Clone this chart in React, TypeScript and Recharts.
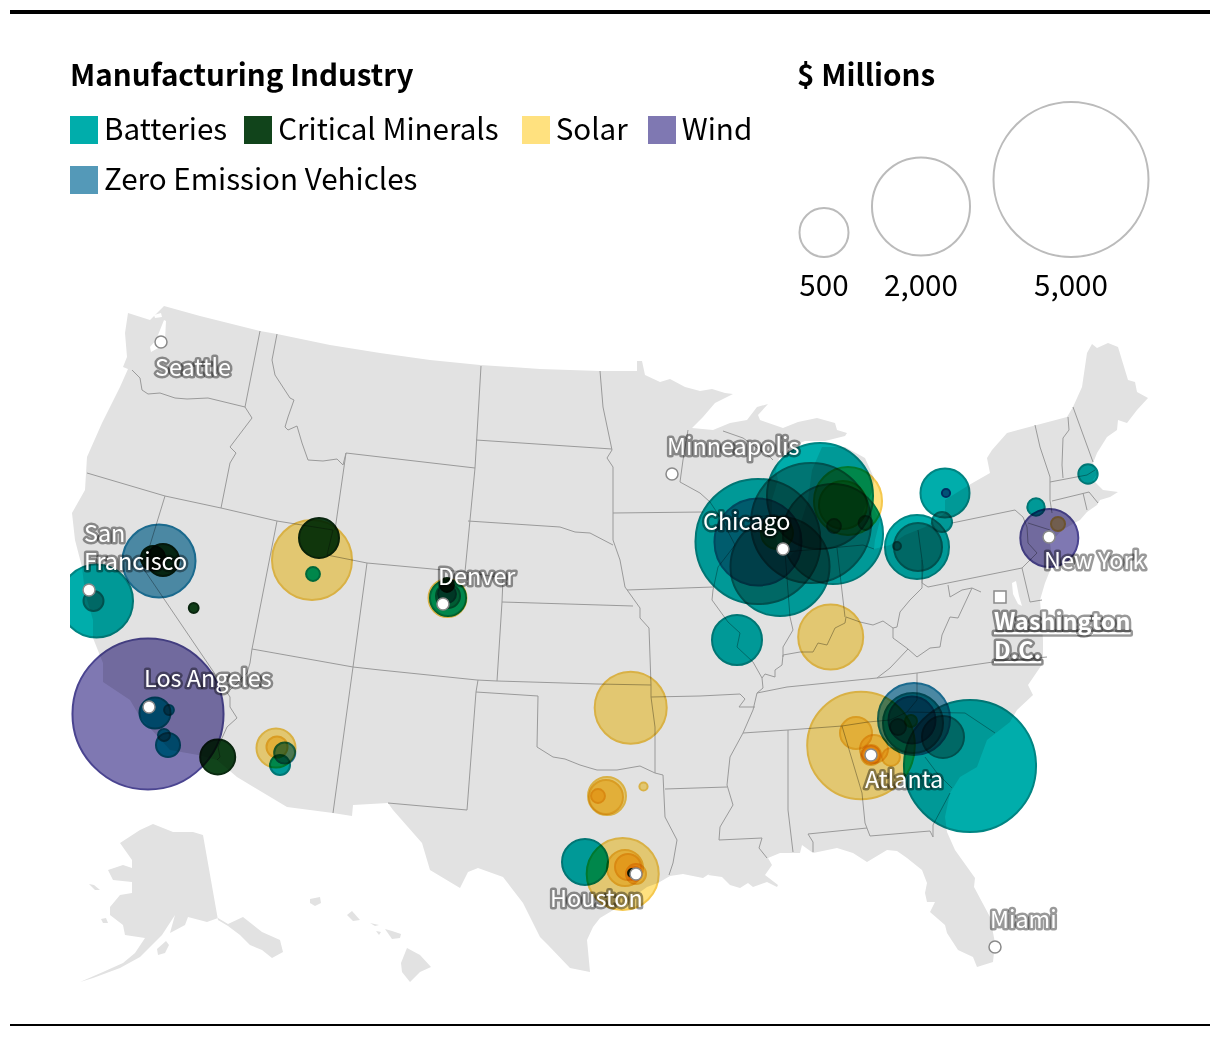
import { ScatterChart, Scatter, XAxis, YAxis, ZAxis } from "recharts";

const WIDTH = 1220;
const HEIGHT = 1038;
const FONT = '"Noto Sans CJK SC", "Noto Sans", sans-serif';

type Pt = [number, number];

const batteries = [
  [96.5, 601, 1110], [93.5, 601, 83], [280, 765, 83], [313, 574, 40],
  [820, 496, 2340], [758, 541.5, 3255], [780, 566.5, 2040], [811, 523, 3000], [833, 534, 2083],
  [834, 526, 40], [865.5, 523, 40], [897, 546, 13],
  [737, 640, 520], [917, 547, 853], [918, 547, 480], [945, 493, 500], [942, 522, 83],
  [1036, 507, 63], [1088, 474, 78], [970, 766, 3630], [913, 723, 750], [943, 737, 367], [898, 727, 53],
  [585, 862, 440], [448, 598, 270], [448, 596, 120],
  [155, 713, 200], [169, 710, 20], [168, 745, 120], [164, 735, 30],
];
const criticalMinerals = [
  [163, 560, 213], [153, 558, 120], [193.7, 608, 20], [319, 538, 333], [217.7, 757, 255],
  [447, 585, 40], [632, 873, 13],
];
const solar = [
  [312, 560, 1333], [276, 748, 317], [277, 747, 92], [447.5, 598, 300], [630.7, 707.7, 1080],
  [607, 796, 300], [606, 797, 240], [598, 796, 40], [643.5, 786.5, 14],
  [622.7, 874, 1080], [625, 868, 270], [628, 867, 140], [636, 874, 83], [635, 874, 40],
  [830.7, 637, 880], [848, 501, 963], [843, 505, 480], [777, 533, 213],
  [861, 745.5, 2410], [856, 733, 213], [874, 749, 163],
  [871, 755, 67], [871, 755, 83], [891, 757, 67], [911, 721, 30], [1058, 524, 41],
];
const wind = [
  [148, 714, 4750], [1049.3, 538, 700], [946, 493, 14],
];
const zeroEmission = [
  [159, 561, 1110], [284.7, 753, 92], [758, 542, 1577], [914, 719, 1080], [912, 720, 460],
  [447, 594, 67],
];

const sizeLegend = [[824, 232.5, 500], [921, 206.5, 2000], [1071, 179.5, 5000]];
const sizeLabels = ["500", "2,000", "5,000"];

const legendItems = [
  { name: "Batteries", color: "#00ADAB" },
  { name: "Critical Minerals", color: "#11441B" },
  { name: "Solar", color: "#FFE17F" },
  { name: "Wind", color: "#7F78B2" },
  { name: "Zero Emission Vehicles", color: "#5499B8" },
];
const legendGaps = [17, 23, 20, 0, 0];

const cities: Pt[] = [
  [161, 342], [89, 590], [149, 707], [443, 604], [672, 474],
  [783, 549], [1049, 537], [871, 755], [636, 874], [995, 947],
];
const capital: Pt[] = [[1000, 597]];

const cityLabels = [
  { text: "Seattle", x: 155, y: 376 },
  { text: "San", x: 84, y: 542 },
  { text: "Francisco", x: 84, y: 570 },
  { text: "Los Angeles", x: 144, y: 687 },
  { text: "Denver", x: 438, y: 585 },
  { text: "Minneapolis", x: 667, y: 455 },
  { text: "Chicago", x: 703, y: 530 },
  { text: "New York", x: 1044, y: 569 },
  { text: "Atlanta", x: 865, y: 788 },
  { text: "Houston", x: 550, y: 907 },
  { text: "Miami", x: 990, y: 928 },
  { text: "Washington", x: 994, y: 630, capital: true },
  { text: "D.C.", x: 994, y: 659, capital: true },
];

// Land
const lower48: Pt[] = [
  [164, 306], [200, 316], [260, 331], [277, 334], [330, 345], [380, 353], [430, 360], [480, 365], [540, 369], [600, 371],
  [637, 371], [637, 361], [642, 361], [645, 375], [660, 382], [670, 379], [685, 387], [700, 391], [712, 389], [725, 393],
  [733, 394], [715, 403], [703, 417], [692, 428], [713, 430], [730, 423], [747, 420], [757, 407], [768, 404], [758, 415],
  [760, 420], [783, 428], [798, 422], [817, 418], [835, 423], [837, 430], [847, 433], [845, 436], [825, 441], [805, 441],
  [790, 447], [780, 455], [776, 470], [778, 480], [772, 500], [772, 525], [778, 545], [790, 556], [798, 548], [800, 525],
  [808, 500], [812, 470], [822, 447], [845, 447], [865, 458], [874, 478], [873, 490], [866, 505], [862, 515], [872, 505],
  [880, 520], [875, 540], [874, 549], [890, 545], [905, 535], [925, 527], [945, 513], [945, 500], [969, 485], [990, 473],
  [987, 458], [992, 450], [1007, 433], [1067, 417], [1073, 407], [1082, 387], [1087, 353], [1092, 344], [1097, 348], [1108, 343],
  [1118, 347], [1128, 380], [1135, 382], [1137, 392], [1148, 398], [1137, 410], [1127, 423], [1118, 420], [1117, 430], [1107, 437],
  [1097, 453], [1093, 463], [1098, 473], [1093, 480], [1103, 490], [1118, 492], [1110, 497], [1100, 500], [1097, 505], [1087, 512],
  [1080, 520], [1062, 530], [1050, 543], [1053, 563], [1045, 583], [1040, 600], [1043, 640], [1043, 663], [1028, 685], [1033, 695],
  [1017, 710], [1010, 722], [987, 740], [977, 767], [960, 777], [950, 793], [945, 817], [947, 832], [955, 850], [975, 878],
  [974, 887], [990, 917], [995, 943], [993, 962], [977, 967], [973, 957], [958, 950], [947, 933], [945, 925], [930, 912],
  [935, 902], [927, 902], [925, 893], [927, 883], [922, 870], [907, 858], [897, 851], [887, 850], [867, 862], [853, 853],
  [837, 848], [813, 853], [802, 845], [800, 853], [780, 853], [768, 858], [772, 865], [765, 875], [778, 885], [777, 887],
  [767, 882], [753, 887], [748, 883], [740, 888], [730, 885], [722, 877], [708, 875], [712, 872], [703, 878], [683, 874],
  [670, 876], [658, 883], [647, 887], [625, 903], [600, 918], [593, 927], [587, 940], [590, 972], [570, 968], [548, 945],
  [540, 937], [523, 903], [503, 877], [478, 868], [468, 872], [460, 888], [430, 870], [422, 843], [393, 810], [388, 803],
  [353, 805], [352, 816], [333, 813], [287, 807], [237, 777], [217, 760], [198, 755], [170, 750], [140, 717], [130, 700],
  [103, 682], [103, 663], [93, 638], [93, 620], [85, 593], [82, 567], [75, 540], [72, 513], [85, 490], [87, 457],
  [102, 423], [120, 387], [128, 369], [123, 367], [127, 357], [125, 333], [128, 313], [150, 320],
];
const alaska: Pt[] = [
  [153, 824], [140, 830], [120, 843], [132, 860], [132, 868], [123, 865], [108, 870], [113, 880], [132, 882], [132, 893],
  [120, 895], [110, 907], [110, 915], [123, 925], [125, 935], [145, 938], [135, 953], [123, 963], [103, 972], [80, 982],
  [93, 978], [120, 968], [140, 957], [162, 935], [175, 915], [170, 933], [185, 925], [188, 917], [207, 922], [218, 918],
  [228, 924], [243, 917], [262, 932], [280, 940], [283, 952], [272, 958], [262, 950], [250, 945], [240, 935], [228, 926],
  [218, 920], [203, 835], [193, 832], [173, 832],
];
const otherLand: Pt[][] = [
  [[89, 884], [94, 885], [100, 890], [95, 890]],
  [[101, 919], [106, 918], [108, 923], [103, 923]],
  [[157, 949], [166, 941], [169, 945], [165, 953], [158, 955]],
  [[310, 899], [320, 897], [321, 903], [315, 906], [310, 903]],
  [[347, 915], [352, 911], [360, 920], [353, 921]],
  [[370, 923], [379, 925], [375, 926]],
  [[376, 931], [381, 932], [379, 935]],
  [[385, 929], [392, 931], [401, 934], [400, 938], [392, 939]],
  [[407, 948], [420, 955], [431, 967], [420, 972], [410, 982], [402, 972], [401, 963]],
];
// Water cut back out of the land
const water: Pt[][] = [
  [[154, 315], [161, 313], [162, 317], [155, 318]],
  [[164, 320], [166, 321], [165, 340], [160, 347], [151, 352], [150, 347], [156, 340]],
  [[1012, 583], [1016, 581], [1019, 596], [1022, 606], [1018, 604], [1013, 594]],
];
// the reference cuts the San Francisco bubble off at the frame
const frameCover: Pt[] = [[0, 540], [70, 540], [70, 660], [0, 660]];

const stateBorders: Pt[][] = [
  [[132, 370], [140, 378], [142, 390], [148, 394], [160, 393], [175, 398], [187, 399], [208, 398], [245, 407]],
  [[260, 331], [245, 407], [252, 418], [230, 447], [236, 453], [230, 463], [221, 508]],
  [[87, 473], [165, 496], [221, 508], [277, 521], [333, 530], [327, 555], [367, 563], [465, 572]],
  [[277, 334], [272, 360], [275, 375], [290, 398], [294, 400], [288, 417], [285, 427], [288, 430], [297, 426], [302, 443], [308, 460], [323, 461], [337, 459], [343, 465], [346, 453], [335, 530]],
  [[346, 453], [475, 468]],
  [[481, 366], [475, 468], [465, 572]],
  [[367, 563], [353, 667], [333, 813]],
  [[165, 496], [143, 568], [217, 677], [230, 697], [230, 707], [237, 718], [227, 727], [218, 747], [220, 757], [217, 760]],
  [[277, 521], [252, 649], [250, 663], [247, 673], [230, 690]],
  [[252, 649], [353, 667], [380, 670], [477, 680], [497, 681], [597, 684], [651, 685]],
  [[465, 572], [503, 578], [502, 602], [497, 681]],
  [[502, 602], [633, 606]],
  [[476, 440], [612, 449]],
  [[468, 521], [560, 527], [575, 532], [590, 533], [613, 545]],
  [[600, 371], [603, 407], [612, 450], [607, 458], [613, 467], [613, 540], [620, 560], [625, 587], [640, 608], [640, 618], [649, 628], [651, 685], [651, 697], [655, 727], [655, 773], [663, 775], [665, 817], [677, 840], [673, 863], [669, 875]],
  [[613, 513], [703, 512]],
  [[627, 590], [713, 587]],
  [[651, 697], [700, 696], [740, 694], [745, 699], [739, 707], [755, 707]],
  [[476, 692], [538, 696], [537, 747], [553, 757], [565, 759], [580, 765], [590, 768], [597, 770], [617, 770], [640, 766], [655, 773]],
  [[478, 680], [476, 692], [467, 810], [388, 803]],
  [[665, 789], [727, 787]],
  [[688, 430], [683, 460], [680, 482], [700, 493], [710, 502], [722, 520], [735, 545], [718, 567], [713, 590], [712, 600], [728, 622], [740, 633], [737, 647], [753, 662], [762, 678], [763, 688], [757, 693], [753, 710], [743, 733], [730, 757], [727, 785], [733, 805], [720, 827], [719, 840], [762, 838], [759, 848], [767, 858]],
  [[722, 520], [775, 515]],
  [[723, 431], [743, 438], [770, 457], [773, 460]],
  [[785, 552], [790, 617], [793, 630], [783, 647], [783, 657]],
  [[785, 552], [863, 545], [874, 549]],
  [[837, 548], [845, 617]],
  [[922, 560], [922, 588], [910, 600], [900, 612], [897, 627], [893, 628], [883, 621], [873, 625], [860, 622], [846, 617], [845, 623], [835, 628], [827, 645], [818, 643], [813, 652], [800, 652], [783, 655], [782, 665], [775, 670], [775, 677], [765, 674], [762, 678]],
  [[893, 628], [893, 638], [908, 649], [917, 657], [930, 648], [940, 647], [942, 635], [950, 617], [958, 618], [972, 588], [981, 592]],
  [[972, 588], [962, 590], [950, 597], [948, 585]],
  [[918, 530], [923, 567], [922, 583], [928, 587], [1022, 568]],
  [[757, 693], [787, 687], [877, 678], [917, 673], [993, 662], [1047, 657]],
  [[877, 678], [890, 668], [908, 649]],
  [[743, 733], [788, 730], [842, 726], [868, 722], [890, 720], [907, 712], [965, 713], [995, 733]],
  [[907, 712], [917, 700], [917, 673]],
  [[788, 730], [788, 810], [793, 852]],
  [[842, 726], [862, 793], [865, 823], [870, 836], [930, 831], [933, 837], [933, 825], [950, 793]],
  [[808, 834], [867, 828]],
  [[808, 834], [813, 842], [813, 852]],
  [[925, 757], [937, 773], [952, 788]],
  [[952, 523], [1015, 510], [1023, 517], [1027, 527], [1028, 543], [1037, 553], [1022, 568], [1030, 602], [1042, 600]],
  [[1028, 523], [1050, 530]],
  [[1035, 425], [1040, 447], [1050, 477], [1050, 500], [1052, 513]],
  [[1068, 417], [1069, 430], [1063, 438], [1062, 465], [1063, 478]],
  [[1073, 407], [1093, 462]],
  [[1050, 482], [1087, 475], [1095, 470]],
  [[1052, 501], [1089, 492], [1098, 503]],
  [[1083, 493], [1087, 510]],
];

const toPoints = (pts: Pt[]) => pts.map(([x, y]) => ({ x, y }));
const toBubbles = (rows: number[][]) => rows.map(([x, y, z]) => ({ x, y, z }));
const noMarker = () => <g />;

function Bubbles({ data, fill, stroke }: { data: number[][]; fill: string; stroke: string }) {
  return (
    <Scatter
      className="bubble"
      data={toBubbles(data)}
      fill={fill}
      stroke={stroke}
      strokeWidth={2}
      isAnimationActive={false}
    />
  );
}

function CityDot(props: any) {
  return <circle cx={props.cx} cy={props.cy} r={6} fill="#fff" stroke="#8a8a8a" strokeWidth={1.5} />;
}

function CapitalMark(props: any) {
  return <rect x={props.cx - 6} y={props.cy - 6} width={12} height={12} fill="#fff" stroke="#8a8a8a" strokeWidth={1.5} />;
}

function CityLabel(props: any) {
  const capitalCity = props.payload.capital;
  return (
    <text
      x={props.cx}
      y={props.cy}
      fontFamily={FONT}
      fontSize={23.4}
      fontWeight={capitalCity ? 700 : 400}
      textDecoration={capitalCity ? "underline" : undefined}
      fill="#fff"
      stroke="#000"
      strokeOpacity={0.4}
      strokeWidth={5}
      strokeLinejoin="round"
      style={{ paintOrder: "stroke" }}
    >
      {props.payload.text}
    </text>
  );
}

function SizeLabel(props: any) {
  return (
    <text x={props.cx} y={296} textAnchor="middle" fontFamily={FONT} fontSize={29.6} fill="#000">
      {sizeLabels[props.index]}
    </text>
  );
}

function Swatch({ name, color, gap }: { name: string; color: string; gap: number }) {
  return (
    <span style={{ display: "inline-flex", alignItems: "center", marginRight: gap, height: 28 }}>
      <span style={{ width: 28, height: 28, background: color, marginRight: 6, position: "relative", top: 2 }} />
      {name}
    </span>
  );
}

export default function App() {
  return (
    <div style={{ position: "relative", width: WIDTH, height: HEIGHT, background: "#fff", fontFamily: FONT }}>
      <style>{`
        body { margin: 0; }
        .bubble .recharts-symbols { mix-blend-mode: multiply; }
      `}</style>
      <ScatterChart width={WIDTH} height={HEIGHT} margin={{ top: 0, right: 0, bottom: 0, left: 0 }}>
        <XAxis type="number" dataKey="x" domain={[0, WIDTH]} hide />
        <YAxis type="number" dataKey="y" domain={[0, HEIGHT]} reversed hide />
        <ZAxis type="number" dataKey="z" domain={[0, 5000]} range={[0, Math.PI * 77.5 * 77.5]} />

        {[lower48, alaska, ...otherLand].map((shape, i) => (
          <Scatter
            key={`land-${i}`}
            data={toPoints(shape)}
            shape={noMarker}
            line={{ fill: "#E2E2E2", stroke: "none" }}
            isAnimationActive={false}
          />
        ))}
        {water.map((shape, i) => (
          <Scatter
            key={`water-${i}`}
            data={toPoints(shape)}
            shape={noMarker}
            line={{ fill: "#fff", stroke: "none" }}
            isAnimationActive={false}
          />
        ))}
        {stateBorders.map((shape, i) => (
          <Scatter
            key={`border-${i}`}
            data={toPoints(shape)}
            shape={noMarker}
            line={{ fill: "none", stroke: "#9a9a9a", strokeWidth: 1 }}
            isAnimationActive={false}
          />
        ))}

        {Bubbles({ data: batteries, fill: "#00ADAB", stroke: "#008583" })}
        {Bubbles({ data: criticalMinerals, fill: "#11441B", stroke: "#0A2A10" })}
        {Bubbles({ data: solar, fill: "#FFE17F", stroke: "#F5C84E" })}
        {Bubbles({ data: wind, fill: "#7F78B2", stroke: "#4A4490" })}
        {Bubbles({ data: zeroEmission, fill: "#5499B8", stroke: "#1E78A0" })}

        <Scatter data={toPoints(frameCover)} shape={noMarker} line={{ fill: "#fff", stroke: "none" }} isAnimationActive={false} />

        <Scatter data={toPoints(cities)} shape={CityDot} isAnimationActive={false} />
        <Scatter data={toPoints(capital)} shape={CapitalMark} isAnimationActive={false} />
        <Scatter data={cityLabels} shape={CityLabel} isAnimationActive={false} />

        <Scatter data={toBubbles(sizeLegend)} fill="none" stroke="#bbb" strokeWidth={2} isAnimationActive={false} />
        <Scatter data={toBubbles(sizeLegend)} shape={SizeLabel} isAnimationActive={false} />
      </ScatterChart>

      <div style={{ position: "absolute", left: 10, top: 10, width: 1200, height: 4, background: "#000" }} />
      <div style={{ position: "absolute", left: 10, top: 1024, width: 1200, height: 2, background: "#000" }} />

      <div style={{ position: "absolute", left: 70, top: 51, fontSize: 29.6, fontWeight: 700, lineHeight: "46px" }}>
        Manufacturing Industry
      </div>
      <div style={{ position: "absolute", left: 797, top: 51, fontSize: 29.6, fontWeight: 700, lineHeight: "46px" }}>
        $ Millions
      </div>
      <div style={{ position: "absolute", left: 70, top: 105, width: 710, fontSize: 29.6, lineHeight: "50px" }}>
        {legendItems.map((item, i) => (
          <Swatch key={item.name} name={item.name} color={item.color} gap={legendGaps[i]} />
        ))}
      </div>
    </div>
  );
}
